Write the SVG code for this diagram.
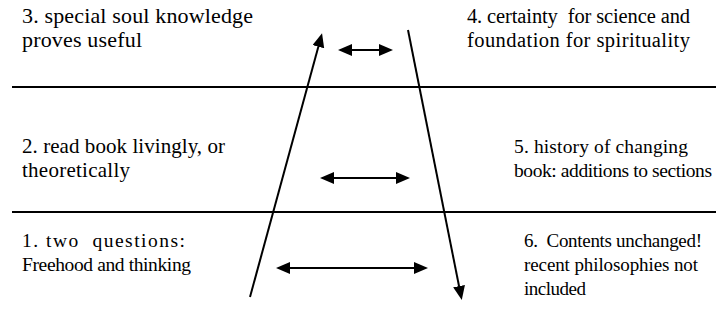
<svg xmlns="http://www.w3.org/2000/svg" width="716" height="322" viewBox="0 0 716 322">
  <style>
    .rule { stroke: #000; stroke-width: 2; }
    .conn { stroke: #000; stroke-width: 2; fill: none; }
    text { font-family: "Liberation Serif", "Times New Roman", serif; fill: #000; }
  </style>
  <defs>
    <marker id="head" markerUnits="userSpaceOnUse" markerWidth="16" markerHeight="14" refX="10" refY="6" orient="auto-start-reverse">
      <path d="M0,0 L14,6 L0,12 z" fill="#000"/>
    </marker>
  </defs>

  <!-- band dividers -->
  <g id="dividers">
    <line class="rule" x1="12" y1="87" x2="716" y2="87"/>
    <line class="rule" x1="12" y1="212" x2="716" y2="212"/>
  </g>

  <!-- labels -->
  <g id="node3" font-size="22">
    <text x="22" y="23" textLength="231">3. special soul knowledge</text>
    <text x="22" y="47" textLength="120">proves useful</text>
  </g>
  <g id="node4" font-size="20.5">
    <text x="467" y="23" xml:space="preserve" textLength="223">4. certainty  for science and</text>
    <text x="467" y="47" textLength="223">foundation for spirituality</text>
  </g>
  <g id="node2" font-size="21">
    <text x="22" y="153" textLength="203">2. read book livingly, or</text>
    <text x="22" y="177" textLength="108">theoretically</text>
  </g>
  <g id="node5" font-size="19.5">
    <text x="514" y="153" textLength="174">5. history of changing</text>
    <text x="514" y="177" textLength="198">book: additions to sections</text>
  </g>
  <g id="node1" font-size="19.5">
    <text x="22" y="247" xml:space="preserve" textLength="163">1. two  questions:</text>
    <text x="22" y="271" textLength="169">Freehood and thinking</text>
  </g>
  <g id="node6" font-size="19">
    <text x="524" y="247" xml:space="preserve" textLength="178">6.  Contents unchanged!</text>
    <text x="524" y="271" textLength="174">recent philosophies not</text>
    <text x="524" y="295" textLength="62">included</text>
  </g>

  <!-- connectors -->
  <g id="connectors">
    <line class="conn" x1="250" y1="297" x2="321" y2="37" marker-end="url(#head)"/>
    <line class="conn" x1="408" y1="30" x2="461" y2="296" marker-end="url(#head)"/>
    <line class="conn" x1="342" y1="50" x2="389" y2="50" marker-start="url(#head)" marker-end="url(#head)"/>
    <line class="conn" x1="324" y1="178" x2="406" y2="178" marker-start="url(#head)" marker-end="url(#head)"/>
    <line class="conn" x1="280" y1="268" x2="424" y2="268" marker-start="url(#head)" marker-end="url(#head)"/>
  </g>
</svg>
